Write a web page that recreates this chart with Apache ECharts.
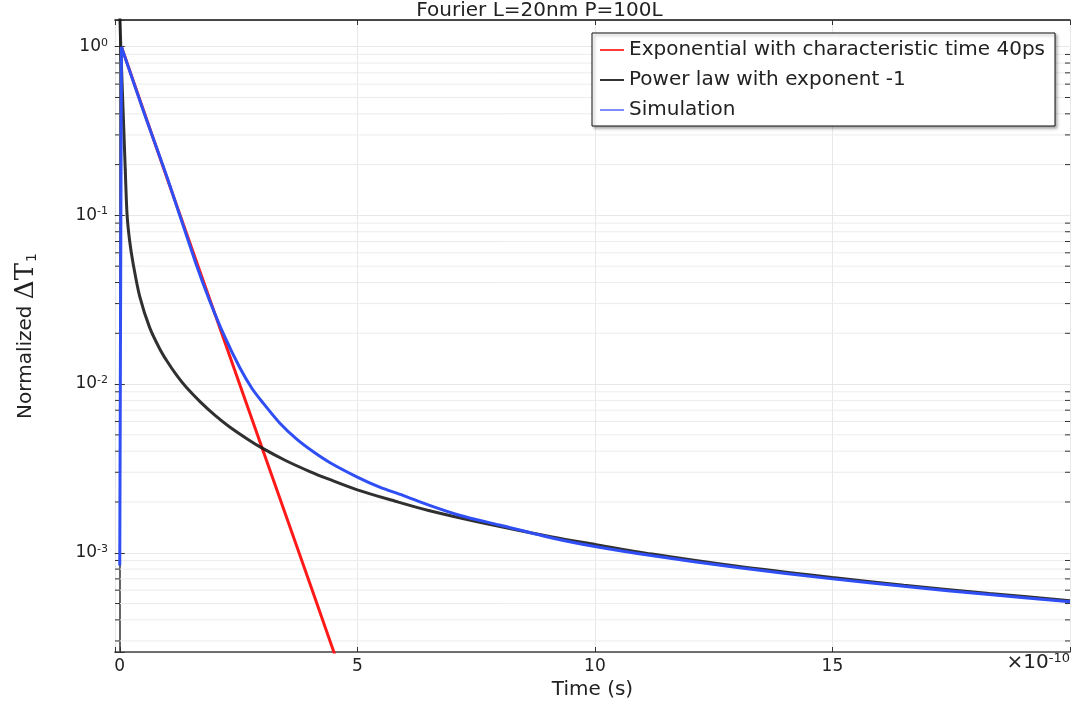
<!DOCTYPE html>
<html><head><meta charset="utf-8">
<script src="https://cdn.jsdelivr.net/npm/echarts@6/dist/echarts.min.js"></script>
<style>html,body{margin:0;padding:0;background:#fff}#c{width:1079px;height:708px}</style>
</head><body><div id="c"></div>
<script>
const titleText = 'Fourier L=20nm P=100L';
const xAxisName = 'Time (s)';
const yAxisNameParts = ['Normalized ', 'ΔT', '1'];
const seriesNames = ['Exponential with characteristic time 40ps', 'Power law with exponent -1', 'Simulation'];
const xMultiplierExp = '-10';
// time in units of 1e-10 s
const expT = [0.035, 1.0, 2.0, 3.0, 4.0, 4.7];
const expV = [1.0, 0.165, 0.0262, 0.00415, 6.6e-4, 1.8e-4];
const powT = [0, 0.031, 0.078, 0.116, 0.155, 0.21, 0.28, 0.42, 0.63, 0.84, 1.0, 1.2, 1.4, 1.7, 2.0, 2.3, 2.7, 3.0, 3.5, 4.0, 4.4, 5.0, 5.8, 6.5, 7.7, 9.1, 10.0, 11.2, 13.0, 15.0, 16.5, 18.3, 20.0];
const powV = [1.6, 0.834, 0.368, 0.186, 0.10, 0.07, 0.0521, 0.0331, 0.0216, 0.0162, 0.0136, 0.01125, 0.00957, 0.00782, 0.00655, 0.00561, 0.0047, 0.00417, 0.00351, 0.00303, 0.00273, 0.00236, 0.00202, 0.00178, 0.00149, 0.00124, 0.00112, 9.82e-4, 8.31e-4, 7.13e-4, 6.42e-4, 5.74e-4, 5.2e-4];
// null entry marks the sharp corner at the peak
const simT = [0, 0.035, null, 0.035, 0.5, 1.0, 1.599, 1.894, 2.209, 2.525, 2.777, 3.015, 3.366, 3.718, 4.067, 4.418, 5.0, 5.47, 5.96, 6.52, 7.15, 7.99, 9.12, 10.0, 11.22, 13.04, 15.0, 16.55, 18.3, 20.0];
const simV = [8.4e-4, 1.0, null, 1.0, 0.415, 0.167, 0.0522, 0.0311, 0.0191, 0.01254, 0.00948, 0.00773, 0.00588, 0.00473, 0.00398, 0.00343, 0.00281, 0.00245, 0.00219, 0.00191, 0.00167, 0.00146, 0.00122, 0.00109, 9.6e-4, 8.15e-4, 7.0e-4, 6.3e-4, 5.65e-4, 5.12e-4];
const minorGridValues = [3e-4,4e-4,5e-4,6e-4,7e-4,8e-4,9e-4,2e-3,3e-3,4e-3,5e-3,6e-3,7e-3,8e-3,9e-3,2e-2,3e-2,4e-2,5e-2,6e-2,7e-2,8e-2,9e-2,0.2,0.3,0.4,0.5,0.6,0.7,0.8,0.9];
const xMin = -0.1, xMax = 20, yMin = 2.58e-4, yMax = 1.44;

const FONT = 'DejaVu Sans';
const zip = (a, b) => a.map((v, i) => (v === null ? [v, null] : [v, b[i]]));

function decadeLabel(v) {
  const e = Math.round(Math.log10(v));
  if (Math.abs(v - Math.pow(10, e)) / v > 1e-6) return '';
  return '{b|10}{s|' + e + '}';
}
const supRich = {
  b: { fontSize: 17, fontFamily: FONT, color: '#222' },
  s: { fontSize: 11, fontFamily: FONT, color: '#222', verticalAlign: 'top', padding: [0, 0, 8, 0] }
};
const multRich = {
  b: { fontSize: 20, fontFamily: FONT, color: '#222' },
  s: { fontSize: 13, fontFamily: FONT, color: '#222', verticalAlign: 'top', padding: [0, 0, 9, 0] }
};

const chart = echarts.init(document.getElementById('c'));
chart.setOption({
  animation: false,
  backgroundColor: '#fff',
  title: { text: titleText, left: 'center', top: -4, textStyle: { fontFamily: FONT, fontSize: 20, fontWeight: 'normal', color: '#222' } },
  grid: { left: 115, right: 9, top: 20, bottom: 56, containLabel: false },
  legend: {
    left: 592, top: 33, orient: 'vertical', align: 'left',
    backgroundColor: '#fff', borderColor: '#111', borderWidth: 1,
    padding: [6, 10, 5, 8], itemGap: 8, itemWidth: 24, itemHeight: 2,
    shadowBlur: 3, shadowColor: 'rgba(0,0,0,0.35)', shadowOffsetX: 2, shadowOffsetY: 2,
    textStyle: { fontFamily: FONT, fontSize: 20, color: '#222', lineHeight: 22 },
    data: [
      { name: seriesNames[0], icon: 'rect', itemStyle: { color: '#ff3a3a' } },
      { name: seriesNames[1], icon: 'rect', itemStyle: { color: '#333' } },
      { name: seriesNames[2], icon: 'rect', itemStyle: { color: '#7d8cff' } }
    ]
  },
  xAxis: [{
    type: 'value', min: xMin, max: xMax, splitNumber: 4,
    name: xAxisName, nameLocation: 'middle', nameGap: 27,
    nameTextStyle: { fontFamily: FONT, fontSize: 20, color: '#222' },
    axisLine: { lineStyle: { color: '#444', width: 1.5 } },
    axisTick: { inside: true, length: 5, lineStyle: { color: '#333' } },
    axisLabel: { margin: 6, fontFamily: FONT, fontSize: 17, color: '#222',
      formatter: v => (Math.abs(v % 5) < 1e-9 && v < 19.99 && v > -0.01) ? String(v) : '' },
    splitLine: { show: true, lineStyle: { color: '#e8e8e8', width: 1 } }
  }, {
    type: 'value', position: 'top', min: xMin, max: xMax, splitNumber: 4,
    axisLine: { lineStyle: { color: '#111', width: 1.5 } },
    axisTick: { inside: true, length: 5, lineStyle: { color: '#333' } },
    axisLabel: { show: false }, splitLine: { show: false }
  }],
  yAxis: [{
    type: 'log', logBase: 10, min: yMin, max: yMax,
    name: '{a|' + yAxisNameParts[0] + '}{d|' + yAxisNameParts[1] + '}{u|' + yAxisNameParts[2] + '}',
    nameLocation: 'middle', nameGap: 76, nameRotate: 90,
    nameTextStyle: { fontFamily: FONT, fontSize: 20, color: '#222',
      rich: {
        a: { fontFamily: FONT, fontSize: 20, color: '#222' },
        d: { fontFamily: 'DejaVu Serif', fontSize: 26, color: '#222' },
        u: { fontFamily: FONT, fontSize: 14, color: '#222', verticalAlign: 'bottom', padding: [7, 0, 0, 1] }
      } },
    axisLine: { lineStyle: { color: '#999', width: 2 } },
    axisTick: { inside: true, length: 5, lineStyle: { color: '#333' } },
    axisLabel: { margin: 7, formatter: decadeLabel, rich: supRich },
    splitLine: { show: true, lineStyle: { color: '#e8e8e8', width: 1 } }
  }, {
    type: 'log', logBase: 10, min: yMin, max: yMax, position: 'right',
    axisLine: { lineStyle: { color: '#555', width: 1.5 } },
    axisTick: { inside: true, length: 5, lineStyle: { color: '#333' } },
    axisLabel: { show: false }, splitLine: { show: false }
  }],
  graphic: [{
    type: 'text', right: 9, top: 652, z: 10,
    style: { text: '{b|×10}{s|' + xMultiplierExp + '}', rich: multRich, fill: '#222' }
  }],
  series: [
    {
      type: 'custom', name: 'minorGrid', silent: true, z: 1,
      data: minorGridValues.map(v => [0, v]),
      renderItem: function (params, api) {
        const cs = params.coordSys;
        const y = api.coord([0, api.value(1)])[1];
        return { type: 'group', children: [
          { type: 'line', shape: { x1: cs.x, y1: y, x2: cs.x + cs.width, y2: y }, style: { stroke: '#ececec', lineWidth: 1 } },
          { type: 'line', shape: { x1: cs.x, y1: y, x2: cs.x + 5, y2: y }, style: { stroke: '#333', lineWidth: 1 } },
          { type: 'line', shape: { x1: cs.x + cs.width - 5, y1: y, x2: cs.x + cs.width, y2: y }, style: { stroke: '#333', lineWidth: 1 } }
        ] };
      }
    },
    { type: 'line', name: seriesNames[0], data: zip(expT, expV), showSymbol: false, symbol: 'none', z: 3,
      lineStyle: { color: '#ff1a1a', width: 3 }, itemStyle: { color: '#ff1a1a' } },
    { type: 'line', name: seriesNames[1], data: zip(powT, powV), showSymbol: false, symbol: 'none', z: 4, smooth: 0.3,
      lineStyle: { color: 'rgba(25,25,25,0.9)', width: 3 }, itemStyle: { color: '#222' } },
    { type: 'line', name: seriesNames[2], data: zip(simT, simV), showSymbol: false, symbol: 'none', z: 5, smooth: 0.3, connectNulls: false,
      lineStyle: { color: '#2f4ff5', width: 3 }, itemStyle: { color: '#2f4ff5' } }
  ]
});
</script></body></html>
